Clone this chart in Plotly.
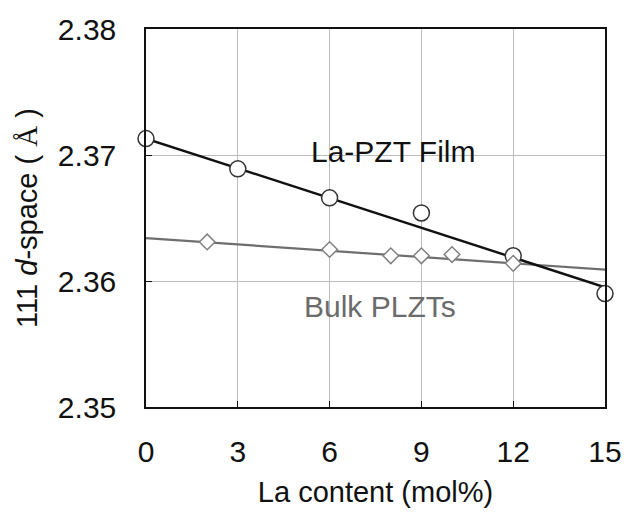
import plotly.graph_objects as go

# La-PZT film data (circles)
film_x = [0, 3, 6, 9, 12, 15]
film_y = [2.3713, 2.3689, 2.3666, 2.3654, 2.3620, 2.3590]
# linear fit endpoints for film
film_fit_x = [0, 15]
film_fit_y = [2.3713, 2.3595]

# Bulk PLZT data (diamonds)
bulk_x = [2, 6, 8, 9, 10, 12]
bulk_y = [2.3631, 2.3625, 2.3620, 2.3620, 2.3621, 2.3614]
bulk_fit_x = [0, 15]
bulk_fit_y = [2.3634, 2.3609]

x_ticks = [0, 3, 6, 9, 12, 15]
y_ticks = [2.35, 2.36, 2.37, 2.38]

FONT = "Arial, Liberation Sans, sans-serif"

fig = go.Figure()
fig.add_trace(go.Scatter(x=bulk_fit_x, y=bulk_fit_y, mode="lines",
                         line=dict(color="#6e6e6e", width=2.2), cliponaxis=False,
                         showlegend=False, hoverinfo="skip"))
fig.add_trace(go.Scatter(x=film_fit_x, y=film_fit_y, mode="lines",
                         line=dict(color="#111111", width=2.4), cliponaxis=False,
                         showlegend=False, hoverinfo="skip"))
fig.add_trace(go.Scatter(x=film_x, y=film_y, mode="markers", cliponaxis=False,
                         marker=dict(symbol="circle", size=16, color="white",
                                     line=dict(color="#333333", width=1.5)),
                         showlegend=False))
fig.add_trace(go.Scatter(x=bulk_x, y=bulk_y, mode="markers", cliponaxis=False,
                         marker=dict(symbol="diamond", size=12, color="white",
                                     line=dict(color="#808080", width=1.5)),
                         showlegend=False))

fig.add_annotation(x=8.07, y=2.3703, text="La-PZT Film", showarrow=False,
                   font=dict(family=FONT, size=30, color="#111111"),
                   xanchor="center", yanchor="middle")
fig.add_annotation(x=7.65, y=2.3580, text="Bulk PLZTs", showarrow=False,
                   font=dict(family=FONT, size=30, color="#6b6b6b"),
                   xanchor="center", yanchor="middle")

fig.update_layout(
    width=634, height=521,
    margin=dict(l=146, r=28, t=21, b=114),
    paper_bgcolor="white", plot_bgcolor="white",
    font=dict(family=FONT, size=30, color="#111111"),
)
fig.update_xaxes(
    range=[0, 15], tickvals=x_ticks, ticktext=[str(v) for v in x_ticks],
    showgrid=True, gridcolor="#bdbdbd", gridwidth=1,
    showline=True, linecolor="#111111", linewidth=1.5, mirror=True,
    ticks="inside", ticklen=6, tickcolor="#111111", tickwidth=1.2,
    ticklabelstandoff=17, zeroline=False,
    title=dict(text="La content (mol%)", standoff=15,
               font=dict(family=FONT, size=29)),
)
fig.update_yaxes(
    range=[2.35, 2.38], tickvals=y_ticks, ticktext=[f"{v:.2f}" for v in y_ticks],
    showgrid=True, gridcolor="#bdbdbd", gridwidth=1,
    showline=True, linecolor="#111111", linewidth=1.5, mirror=True,
    ticks="inside", ticklen=6, tickcolor="#111111", tickwidth=1.2,
    ticklabelstandoff=22, zeroline=False,
    title=dict(text="111 <i>d</i>-space ( <span style='font-family:Liberation Serif'>Å</span> )",
               standoff=12, font=dict(family=FONT, size=29)),
)

fig.write_html("out.html")
